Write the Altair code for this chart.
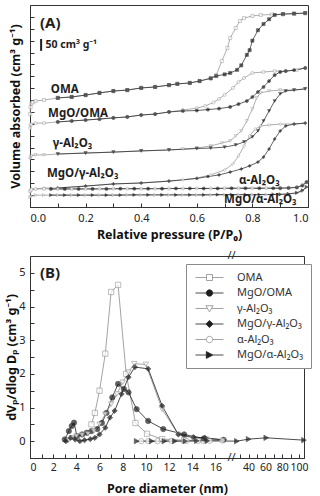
import altair as alt
import pandas as pd

FONT = "Noto Sans"
GRAY = "#8c8c8c"
DARK = "#1e1e1e"

SAMPLES = ["OMA", "MgO/OMA", "γ-Al₂O₃", "MgO/γ-Al₂O₃", "α-Al₂O₃", "MgO/α-Al₂O₃"]
SHAPES = ["square", "circle", "triangle-down", "diamond", "circle", "triangle-right"]
B_FILL = ["white", DARK, "white", DARK, "white", DARK]
B_EDGE = [GRAY, DARK, GRAY, DARK, GRAY, DARK]

# ---------------- (A) N2 isotherms, stacked with vertical offsets (cm3/g) ----------------
OMA_OPEN_P = [0.0005, 0.002, 0.005, 0.01, 0.02, 0.05, 0.1, 0.15, 0.2, 0.25, 0.3, 0.35, 0.4, 0.45, 0.5, 0.53,
              0.575, 0.61, 0.65, 0.67, 0.69, 0.71, 0.72, 0.74, 0.755, 0.77, 0.80, 0.83, 0.87, 0.91, 0.95, 0.99]
OMA_OPEN_V = [391, 420, 435, 441, 446, 450, 459, 463, 471, 480, 488, 492, 501, 505, 513, 518,
              522, 530, 543, 555, 614, 669, 711, 753, 783, 795, 804, 808, 810, 811, 813, 816]
OMA_FILL_P = [0.99, 0.95, 0.91, 0.88, 0.86, 0.84, 0.82, 0.80, 0.79, 0.78, 0.76, 0.745, 0.72, 0.70, 0.67,
              0.65, 0.61, 0.575, 0.53, 0.5, 0.45, 0.4, 0.35, 0.3, 0.25, 0.2, 0.15, 0.1]
OMA_FILL_V = [816, 814, 812, 808, 790, 770, 744, 700, 660, 640, 596, 577, 564, 558, 551,
              541, 530, 522, 518, 513, 505, 501, 492, 488, 480, 471, 463, 459]

MGO_OMA_OPEN_P = [0.0005, 0.002, 0.005, 0.02, 0.05, 0.1, 0.15, 0.2, 0.25, 0.3, 0.35, 0.4, 0.45, 0.5, 0.55,
                  0.6, 0.63, 0.66, 0.68, 0.70, 0.73, 0.75, 0.77, 0.80, 0.84, 0.88, 0.92, 0.96, 0.99]
MGO_OMA_OPEN_V = [332, 345, 349, 353, 353, 358, 362, 366, 370, 375, 379, 387, 391, 400, 408,
                  416, 425, 440, 455, 472, 501, 526, 543, 564, 568, 572, 572, 576, 585]
MGO_OMA_FILL_P = [0.99, 0.95, 0.92, 0.90, 0.88, 0.86, 0.84, 0.82, 0.80, 0.78, 0.75, 0.72, 0.68, 0.64, 0.6,
                  0.55, 0.5, 0.45, 0.4, 0.35, 0.3, 0.25, 0.2, 0.15, 0.1]
MGO_OMA_FILL_V = [585, 576, 572, 568, 555, 530, 505, 484, 463, 446, 433, 421, 414, 410, 406,
                  404, 400, 391, 387, 379, 375, 370, 366, 362, 358]

GAMMA_OPEN_P = [0.0005, 0.002, 0.005, 0.02, 0.05, 0.1, 0.2, 0.3, 0.4, 0.5, 0.55, 0.6, 0.65, 0.69, 0.72,
                0.74, 0.76, 0.78, 0.80, 0.815, 0.83, 0.86, 0.9, 0.95, 0.99]
GAMMA_OPEN_V = [202, 210, 215, 219, 219, 223, 227, 231, 236, 240, 244, 248, 257, 269, 278,
                299, 320, 362, 412, 459, 480, 488, 492, 492, 497]
GAMMA_FILL_P = [0.99, 0.95, 0.92, 0.9, 0.88, 0.86, 0.84, 0.82, 0.80, 0.77, 0.74, 0.70, 0.65, 0.6, 0.5,
                0.4, 0.3, 0.2, 0.1]
GAMMA_FILL_V = [497, 492, 488, 476, 446, 404, 362, 320, 295, 274, 261, 252, 248, 246, 240,
                236, 231, 227, 223]

MGO_GAMMA_OPEN_P = [0.0005, 0.002, 0.005, 0.02, 0.05, 0.1, 0.2, 0.3, 0.4, 0.5, 0.55, 0.6, 0.65, 0.7, 0.73,
                    0.75, 0.77, 0.79, 0.81, 0.83, 0.86, 0.9, 0.95, 0.99]
MGO_GAMMA_OPEN_V = [63, 72, 76, 76, 80, 80, 88, 97, 101, 109, 114, 122, 135, 156, 181,
                    215, 257, 299, 328, 341, 345, 349, 349, 353]
MGO_GAMMA_FILL_P = [0.99, 0.95, 0.92, 0.9, 0.88, 0.86, 0.84, 0.82, 0.79, 0.76, 0.72, 0.68, 0.64, 0.6, 0.5,
                    0.4, 0.3, 0.2, 0.1]
MGO_GAMMA_FILL_V = [353, 349, 341, 320, 286, 244, 210, 189, 173, 160, 147, 135, 128, 120, 109,
                    101, 97, 88, 80]

FLAT_OPEN_P = [0.0005, 0.005, 0.02, 0.05, 0.1, 0.15, 0.2, 0.25, 0.3, 0.35, 0.4, 0.45, 0.5, 0.55, 0.6,
               0.65, 0.7, 0.75, 0.8, 0.85, 0.9, 0.93, 0.96, 0.98, 0.995]
FLAT_FILL_P = [0.995, 0.98, 0.96, 0.93, 0.9, 0.875, 0.825, 0.775, 0.725, 0.675, 0.625, 0.575, 0.525,
               0.475, 0.425, 0.375, 0.325, 0.275, 0.225, 0.175, 0.125, 0.075]
ALPHA_OPEN_V = [67, 72, 76, 76, 76, 76, 76, 77, 77, 77, 77, 77, 78, 78, 78,
                78, 79, 79, 79, 79, 80, 81, 84, 93, 105]
ALPHA_FILL_V = [105, 90, 82, 80, 79, 79, 79, 79, 79, 78, 78, 78, 78,
                77, 77, 77, 77, 76, 76, 76, 76, 76]
MGO_ALPHA_OPEN_V = [42, 46, 50, 50, 50, 50, 50, 50, 50, 51, 51, 51, 51, 51, 51,
                    51, 52, 52, 52, 52, 53, 55, 59, 67, 84]
MGO_ALPHA_FILL_V = [84, 70, 60, 55, 53, 53, 52, 52, 52, 52, 51, 51, 51,
                    51, 51, 51, 50, 50, 50, 50, 50, 50]

# sample names written next to each isotherm (P/P0, offset volume)
A_LABEL_P = [0.075, 0.065, 0.082, 0.061, 0.752, 0.698]
A_LABEL_V = [492, 391, 265, 139, 109, 29]

# ---------------- (B) BJH pore size distributions ----------------
OMA_D = [5.3, 5.6, 6.0, 6.5, 7.0, 7.6, 8.3, 9.1, 10.1, 11.4, 13.3, 15.0]
OMA_Y = [0.5, 0.84, 1.5, 2.6, 4.43, 4.64, 2.0, 0.54, 0.22, 0.06, 0.03, 0.02]
MGO_OMA_D = [3.0, 3.35, 3.6, 3.8, 4.05, 4.5, 4.9, 5.3, 5.8, 6.2, 6.6, 7.1, 7.6, 8.1, 8.5, 9.2, 10.2,
             11.5, 13.3, 15.0, 16.7]
MGO_OMA_Y = [0.05, 0.3, 0.45, 0.55, 0.15, 0.2, 0.25, 0.3, 0.36, 0.54, 0.84, 1.3, 1.7, 1.55, 1.45, 0.95, 0.6,
             0.36, 0.2, 0.08, 0.04]
GAMMA_D = [3.3, 3.6, 4.0, 4.5, 5.0, 5.5, 6.0, 6.5, 7.0, 7.5, 8.0, 8.5, 9.0, 10.0, 11.4, 12.8, 14.0, 15.2, 16.7]
GAMMA_Y = [0.02, 0.1, 0.15, 0.18, 0.22, 0.3, 0.5, 0.8, 1.1, 1.4, 1.75, 2.05, 2.3, 2.28, 0.95, 0.2, 0.1,
           0.06, 0.03]
MGO_GAMMA_D = [3.1, 3.5, 3.9, 4.3, 4.7, 5.2, 5.6, 6.0, 6.5, 6.9, 7.3, 7.9, 8.5, 9.05, 10.2, 11.4, 12.8,
               14.1, 15.1, 16.7]
MGO_GAMMA_Y = [0.0, 0.1, 0.05, 0.0, 0.03, 0.06, 0.1, 0.2, 0.4, 0.7, 0.9, 1.4, 1.9, 2.2, 2.15, 1.05, 0.2,
               0.12, 0.1, 0.04]
ALPHA_D = [9.6, 10.2, 11.0, 12.2, 13.5, 14.5, 15.5, 16.6]
ALPHA_Y = [0.0, 0.0, 0.0, 0.01, 0.01, 0.01, 0.01, 0.02]
MGO_ALPHA_D = [9.2, 10.5, 11.6, 12.5, 13.4, 14.4, 15.3, 26, 40, 61, 106]
MGO_ALPHA_Y = [0.0, 0.0, 0.0, 0.0, 0.0, 0.01, 0.01, 0.0, 0.06, 0.1, 0.03]

# legend symbols: a short line run through the marker
LEGEND_PATHS = [
    "M-3.5,0H-0.75M0.75,0H3.5M-0.75,-0.75H0.75V0.75H-0.75Z",
    "M-3.5,0H-0.8M0.8,0H3.5M-0.8,0A0.8,0.8,0,1,0,0.8,0A0.8,0.8,0,1,0,-0.8,0Z",
    "M-3.5,0H-0.5M0.5,0H3.5M-0.9,-0.7H0.9L0,0.85Z",
    "M-3.5,0H-0.9M0.9,0H3.5M-0.9,0L0,-0.9L0.9,0L0,0.9Z",
    "M-3.5,0H-0.8M0.8,0H3.5M-0.8,0A0.8,0.8,0,1,0,0.8,0A0.8,0.8,0,1,0,-0.8,0Z",
    "M-3.5,0H-0.8M0.85,0H3.5M-0.8,-0.85L0.85,0L-0.8,0.85Z",
]

# ---------------- tables ----------------
a_series = [
    (SAMPLES[0], "open", OMA_OPEN_P, OMA_OPEN_V), (SAMPLES[0], "filled", OMA_FILL_P, OMA_FILL_V),
    (SAMPLES[1], "open", MGO_OMA_OPEN_P, MGO_OMA_OPEN_V), (SAMPLES[1], "filled", MGO_OMA_FILL_P, MGO_OMA_FILL_V),
    (SAMPLES[2], "open", GAMMA_OPEN_P, GAMMA_OPEN_V), (SAMPLES[2], "filled", GAMMA_FILL_P, GAMMA_FILL_V),
    (SAMPLES[3], "open", MGO_GAMMA_OPEN_P, MGO_GAMMA_OPEN_V), (SAMPLES[3], "filled", MGO_GAMMA_FILL_P, MGO_GAMMA_FILL_V),
    (SAMPLES[4], "open", FLAT_OPEN_P, ALPHA_OPEN_V), (SAMPLES[4], "filled", FLAT_FILL_P, ALPHA_FILL_V),
    (SAMPLES[5], "open", FLAT_OPEN_P, MGO_ALPHA_OPEN_V), (SAMPLES[5], "filled", FLAT_FILL_P, MGO_ALPHA_FILL_V),
]
rows = []
for name, branch, ps, vs in a_series:
    for k, (p, v) in enumerate(zip(ps, vs)):
        rows.append({"sample": name, "branch": branch, "p": p, "v": v, "k": k})
df_a = pd.DataFrame(rows)
df_a_lab = pd.DataFrame({"label": SAMPLES, "p": A_LABEL_P, "v": A_LABEL_V})

b_series = [(SAMPLES[0], OMA_D, OMA_Y), (SAMPLES[1], MGO_OMA_D, MGO_OMA_Y), (SAMPLES[2], GAMMA_D, GAMMA_Y),
            (SAMPLES[3], MGO_GAMMA_D, MGO_GAMMA_Y), (SAMPLES[4], ALPHA_D, ALPHA_Y),
            (SAMPLES[5], MGO_ALPHA_D, MGO_ALPHA_Y)]
rows = []
for name, ds, ys in b_series:
    for k, (d, y) in enumerate(zip(ds, ys)):
        rows.append({"sample": name, "d": d, "y": y, "k": k})
df_b = pd.DataFrame(rows)
df_leg = pd.DataFrame({"key": SAMPLES})

# ---------------- panel A ----------------
WA, HA = 278, 202
xa = alt.Scale(domain=[0, 1], nice=False, zero=False)
ya = alt.Scale(domain=[0, 850], nice=False, zero=False)
branch_stroke = alt.Scale(domain=["open", "filled"], range=[GRAY, DARK])

a_lines = alt.Chart(df_a).mark_line(strokeWidth=0.7).encode(
    x=alt.X("p:Q", scale=xa, axis=alt.Axis(
        orient="bottom", values=[0, 0.2, 0.4, 0.6, 0.8, 1.0], format=".1f", ticks=False,
        labelOverlap=False, labelPadding=5, title="Relative pressure (P/P₀)", titlePadding=5)),
    y=alt.Y("v:Q", scale=ya, axis=alt.Axis(
        orient="left", labels=False, ticks=False, title="Volume absorbed (cm³ g⁻¹)", titlePadding=8)),
    stroke=alt.Stroke("branch:N", scale=branch_stroke, legend=None),
    detail="sample:N",
    order="k:Q",
)
a_points = alt.Chart(df_a).mark_point(filled=True, size=10, strokeWidth=0.6).encode(
    x=alt.X("p:Q", scale=xa, axis=alt.Axis(
        orient="top", offset=-HA, labels=False, domain=False, title=None, tickSize=4,
        values=[i / 10 for i in range(11)])),
    y=alt.Y("v:Q", scale=ya, axis=alt.Axis(
        orient="right", offset=-WA, labels=False, domain=False, title=None, tickSize=4,
        values=list(range(50, 850, 50)))),
    shape=alt.Shape("sample:N", scale=alt.Scale(domain=SAMPLES, range=SHAPES), legend=None),
    fill=alt.Fill("branch:N", scale=alt.Scale(domain=["open", "filled"], range=["white", DARK]), legend=None),
    stroke=alt.Stroke("branch:N", scale=branch_stroke, legend=None),
)
a_labels = alt.Chart(df_a_lab).mark_text(
    align="left", baseline="middle", font=FONT, fontSize=11.5, fontWeight="bold", color=DARK
).encode(
    x=alt.X("p:Q", scale=xa, axis=None),
    y=alt.Y("v:Q", scale=ya, axis=None),
    text="label:N",
)
a_tag = alt.Chart().mark_text(
    text="(A)", align="left", baseline="middle", font=FONT, fontSize=15, fontWeight="bold", color=DARK
).encode(x=alt.XDatum(0.036, scale=xa, axis=None), y=alt.YDatum(774, scale=ya, axis=None))
a_bar = alt.Chart().mark_rule(strokeWidth=2, color=DARK).encode(
    x=alt.XDatum(0.04, scale=xa, axis=None),
    y=alt.YDatum(657, scale=ya, axis=None),
    y2=alt.Y2Datum(707),
)
a_bar_text = alt.Chart().mark_text(
    text="50 cm³ g⁻¹", align="left", baseline="middle", font=FONT, fontSize=10.5, fontWeight="bold",
    color=DARK
).encode(x=alt.XDatum(0.056, scale=xa, axis=None), y=alt.YDatum(682, scale=ya, axis=None))

panel_a = alt.layer(a_lines, a_points, a_labels, a_tag, a_bar, a_bar_text).resolve_axis(
    x="independent", y="independent"
).properties(width=WA, height=HA)

# ---------------- panel B (broken x axis: 0-17 nm, then 25-106 nm compressed) ----------------
WB, HB = 274, 202
xb = alt.Scale(domain=[0, 17, 25, 106], range=[0, 197, 206, WB], nice=False, zero=False)
yb = alt.Scale(domain=[-0.5, 5.5], nice=False, zero=False)
edge_scale = alt.Scale(domain=SAMPLES, range=B_EDGE)

b_lines = alt.Chart(df_b).mark_line(strokeWidth=0.8).encode(
    x=alt.X("d:Q", scale=xb, axis=alt.Axis(
        orient="bottom", values=[0, 2, 4, 6, 8, 10, 12, 14, 16, 40, 60, 80, 100], ticks=False,
        labelOverlap=False, labelFontSize=10.5, labelPadding=4, title="Pore diameter (nm)",
        titlePadding=10)),
    y=alt.Y("y:Q", scale=yb, axis=alt.Axis(
        orient="left", values=[0, 1, 2, 3, 4, 5], ticks=False, labelPadding=5, labelOverlap=False,
        title="dVₚ/dlog Dₚ (cm³ g⁻¹)", titlePadding=0)),
    stroke=alt.Stroke("sample:N", scale=edge_scale, legend=None),
    order="k:Q",
)
b_points = alt.Chart(df_b).mark_point(filled=True, size=28, strokeWidth=0.8).encode(
    x=alt.X("d:Q", scale=xb, axis=alt.Axis(
        orient="top", offset=-HB, labels=False, domain=False, title=None, tickSize=4,
        values=list(range(0, 17)) + [30, 40, 50, 60, 70, 80, 90, 100])),
    y=alt.Y("y:Q", scale=yb, axis=alt.Axis(
        orient="right", offset=-WB, labels=False, domain=False, title=None, tickSize=4,
        values=[i / 2 for i in range(11)])),
    shape=alt.Shape("sample:N", scale=alt.Scale(domain=SAMPLES, range=SHAPES), legend=None),
    fill=alt.Fill("sample:N", scale=alt.Scale(domain=SAMPLES, range=B_FILL), legend=None),
    stroke=alt.Stroke("sample:N", scale=edge_scale, legend=None),
)
leg = alt.Legend(
    title=None, orient="none", legendX=156, legendY=8, strokeColor="#8a8a8a", fillColor="white",
    padding=8, labelFont=FONT, labelFontSize=11, labelColor="#333", symbolSize=64,
    symbolStrokeWidth=0.8, symbolOpacity=1, symbolOffset=10, labelOffset=22, rowPadding=3.5,
)
b_legend = alt.Chart(df_leg).mark_point(filled=True, opacity=0).encode(
    x=alt.XDatum(1, scale=xb, axis=None),
    y=alt.YDatum(0, scale=yb, axis=None),
    shape=alt.Shape("key:N", scale=alt.Scale(domain=SAMPLES, range=LEGEND_PATHS), legend=leg),
    fill=alt.Fill("key:N", scale=alt.Scale(domain=SAMPLES, range=B_FILL), legend=leg),
    stroke=alt.Stroke("key:N", scale=alt.Scale(domain=SAMPLES, range=B_EDGE), legend=leg),
)
b_tag = alt.Chart().mark_text(
    text="(B)", align="left", baseline="middle", font=FONT, fontSize=15, fontWeight="bold", color=DARK
).encode(x=alt.XDatum(0.86, scale=xb, axis=None), y=alt.YDatum(5.0, scale=yb, axis=None))
b_break_top = alt.Chart().mark_text(
    text="//", font=FONT, fontSize=11, color=DARK, baseline="middle"
).encode(x=alt.XDatum(21, scale=xb, axis=None), y=alt.YDatum(5.5, scale=yb, axis=None))
b_break_bot = alt.Chart().mark_text(
    text="//", font=FONT, fontSize=11, color=DARK, baseline="middle"
).encode(x=alt.XDatum(21, scale=xb, axis=None), y=alt.YDatum(-0.5, scale=yb, axis=None))

panel_b = alt.layer(b_lines, b_points, b_legend, b_tag, b_break_top, b_break_bot).resolve_scale(
    shape="independent", fill="independent", stroke="independent"
).resolve_axis(
    x="independent", y="independent"
).properties(width=WB, height=HB)

chart = alt.vconcat(panel_a, panel_b, spacing=49, bounds="flush").properties(
    padding={"left": 5, "top": 4, "right": 2, "bottom": 2}, background="white"
).configure_view(
    stroke="#333", strokeWidth=1
).configure_axis(
    grid=False, domainColor="#333", tickColor="#333", labelFont=FONT, titleFont=FONT,
    labelFontSize=11, titleFontSize=12.5, titleFontWeight="bold", labelColor="#222", titleColor="#111",
)

chart.save("out.html", embed_options={"renderer": "svg", "actions": False})
